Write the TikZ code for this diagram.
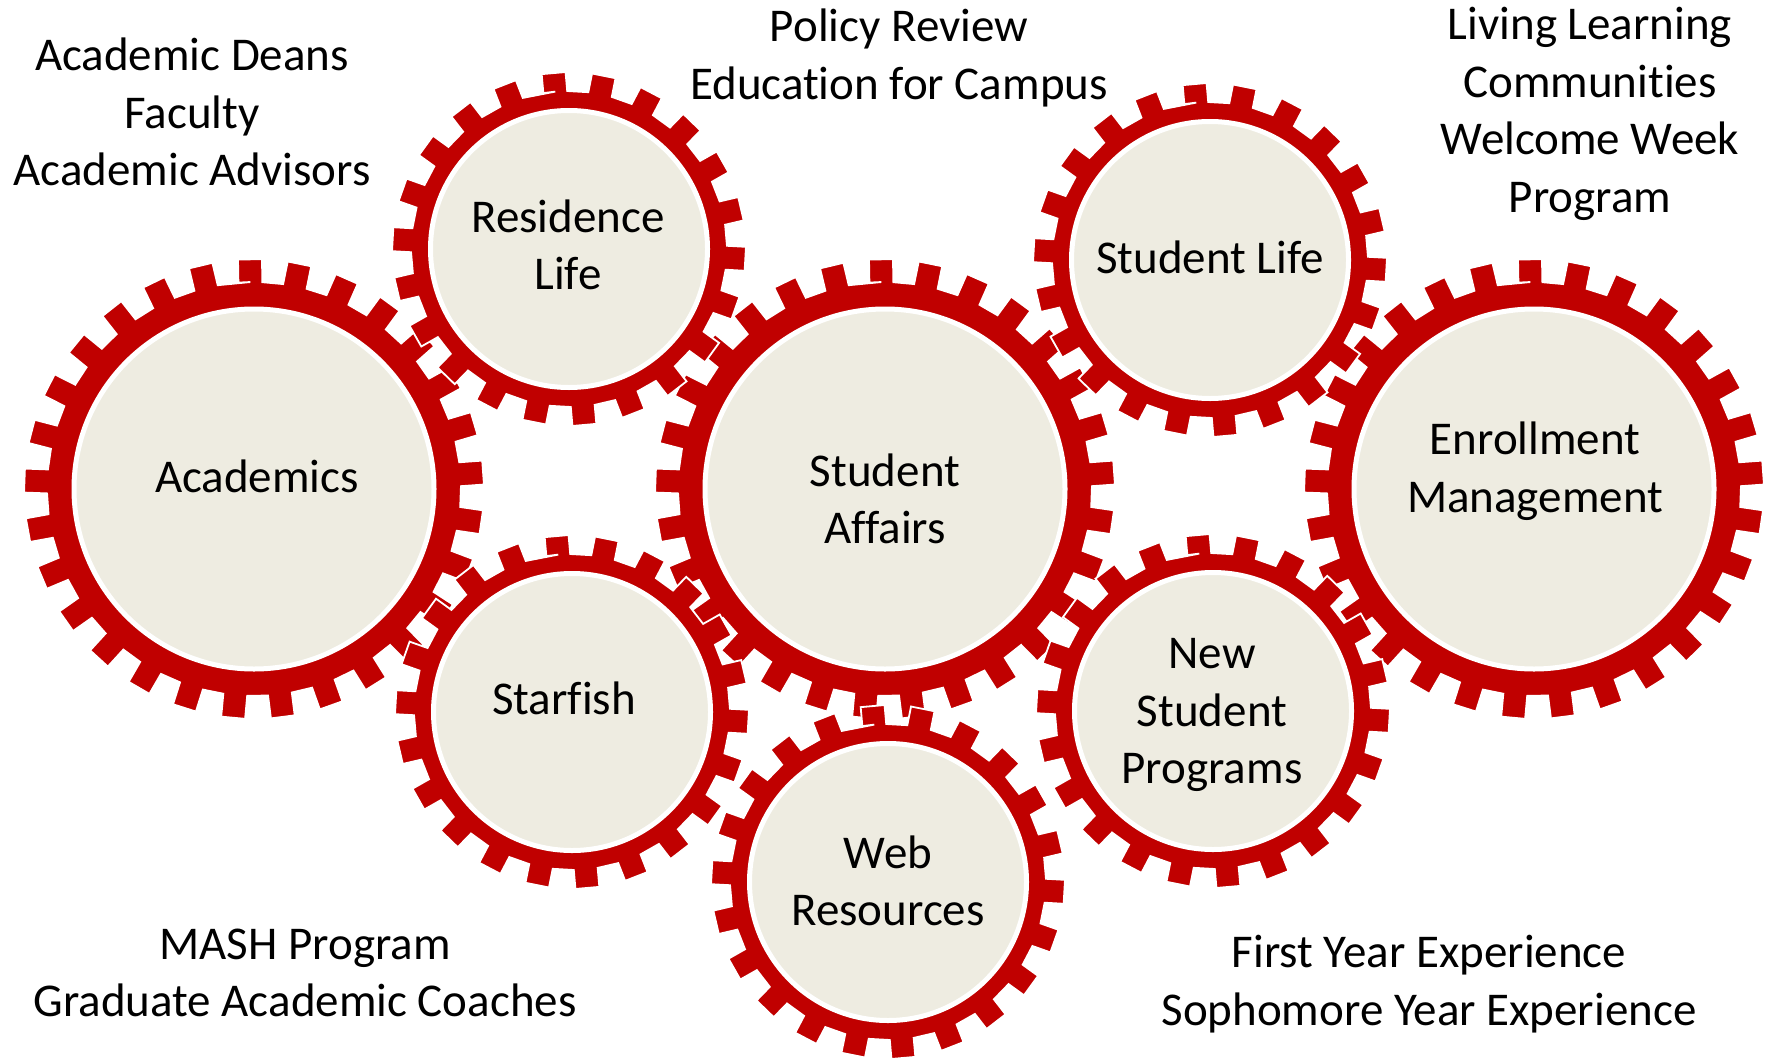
\documentclass[tikz,border=0pt]{standalone}
\usepackage{fontspec}
\setmainfont{Carlito}[Ligatures=NoCommon]
\usetikzlibrary{calc}

\definecolor{cogred}{RGB}{192,0,0}
\definecolor{cogbeige}{RGB}{238,236,225}

\tikzset{
  cogbody/.style={fill=cogred, draw=white, line width=.9pt, line join=miter},
  cogface/.style={fill=cogbeige, draw=white, line width=2.5pt},
  cogtext/.style={font=\fontsize{23.5}{28.8}\selectfont, align=center, inner sep=0pt},
  sidetext/.style={font=\fontsize{23.5}{28.8}\selectfont, align=center, inner sep=0pt},
}

% #1 centre, #2 teeth, #3 tip radius, #4 root radius, #5 face radius, #6 first tooth
\newcommand{\cogwheel}[6]{%
  \begin{scope}[shift={(#1)}]
    \filldraw[cogbody] (#6:#4)
      \foreach \k in {1,...,#2} {
        -- ({#6+(\k-1)*360/#2-deg(12/#4)}:#4)
        -- ({#6+(\k-1)*360/#2-deg(12/#3)}:#3)
        -- ({#6+(\k-1)*360/#2+deg(12/#3)}:#3)
        -- ({#6+(\k-1)*360/#2+deg(12/#4)}:#4)
      } -- cycle;
    \filldraw[cogface] (0,0) circle (#5);
  \end{scope}}

\begin{document}
\begin{tikzpicture}[x=.5pt,y=-.5pt]
\useasboundingbox (0,0) rectangle (1771,1060);

% centres:
\coordinate (acad) at (254,489);
\coordinate (affairs) at (885,489);
\coordinate (enrol) at (1534,489);
\coordinate (resid) at (569,249);
\coordinate (life) at (1210,260);
\coordinate (star) at (572,712);
\coordinate (newst) at (1213,711);
\coordinate (web) at (888,882);

% large wheels:
\cogwheel{acad}{29}{230}{207}{180}{-91}
\cogwheel{affairs}{29}{230}{207}{180}{-91}
\cogwheel{enrol}{29}{230}{207}{180}{-91}

% small wheels:
\cogwheel{resid}{22}{177}{158}{138.5}{-95}
\cogwheel{life}{22}{177}{158}{138.5}{-95}
\cogwheel{star}{22}{177}{158}{138.5}{-95}
\cogwheel{newst}{22}{177}{158}{138.5}{-95}
\cogwheel{web}{22}{177}{158}{138.5}{-95}

% wheel names:
\node[cogtext] (acadname) at (257,476) {Academics};
\node[cogtext] (affairsname) at (885,499) {Student\\Affairs};
\node[cogtext] (enrolname) at (1535,471) {Enrollment\\Management};
\node[cogtext] (residname) at (568,245) {Residence\\Life};
\node[cogtext] (lifename) at (1210,257) {Student Life};
\node[cogtext] (starname) at (564,698) {Starfish};
\node[cogtext] (newstname) at (1212,715) {New\\Student\\Programs};
\node[cogtext] (webname) at (888,881) {Web\\Resources};

% notes:
\node[sidetext] (deans) at (192,112) {Academic Deans\\Faculty\\Academic Advisors};
\node[sidetext] (policy) at (899,58) {Policy Review\\Education for Campus};
\node[sidetext] (living) at (1590,114) {Living Learning\\Communities\\Welcome Week\\Program};
\node[sidetext] (mash) at (305,973) {MASH Program\\Graduate Academic Coaches};
\node[sidetext] (firstyear) at (1429,984) {First Year Experience\\Sophomore Year Experience};
\end{tikzpicture}
\end{document}
